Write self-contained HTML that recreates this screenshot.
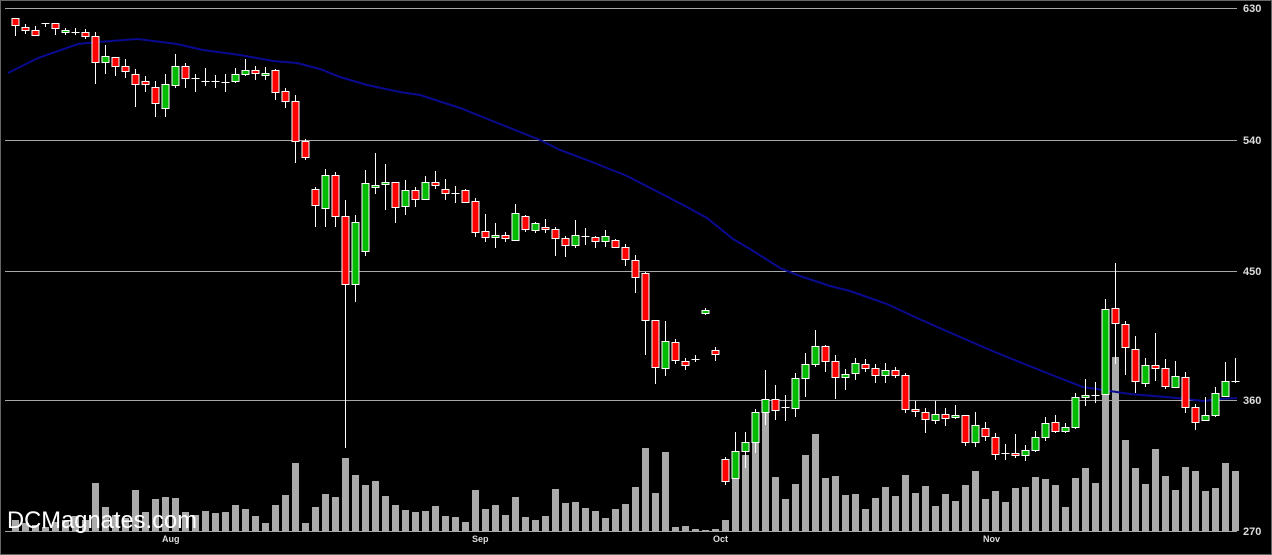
<!DOCTYPE html>
<html><head><meta charset="utf-8"><style>
html,body{margin:0;padding:0;background:#000;width:1272px;height:555px;overflow:hidden}
svg{display:block}
.r{fill:#f00;stroke:#fff;stroke-width:1}
.g{fill:#0b0;stroke:#fff;stroke-width:1}
.w{stroke:#fff;stroke-width:1;fill:none}
.v{fill:#aaa}
.t{font-family:"Liberation Sans",sans-serif;font-size:11px;fill:#ddd;font-weight:bold}
</style></head><body>
<svg width="1272" height="555" xmlns="http://www.w3.org/2000/svg">
<rect x="0.5" y="0.5" width="1271" height="554" fill="#000" stroke="#666"/>
<g stroke="#a8a8a8" stroke-width="1">
<path d="M5 8.5H1237M5 140.5H1237M5 271.5H1237M5 400.5H1237M5 531.5H1237"/>
</g>
<g class="t">
<text x="1243" y="12">630</text><text x="1243" y="144">540</text><text x="1243" y="275">450</text><text x="1243" y="404">360</text><text x="1243" y="535">270</text>
<text x="162" y="542" font-size="9">Aug</text><text x="472" y="542" font-size="9">Sep</text><text x="713" y="542" font-size="9">Oct</text><text x="983" y="542" font-size="9">Nov</text>
</g>
<g class="v" id="vol"></g>
<path d="M8 73L38 58L78 44L97 42L138 39L177 44L203 50L240 55L273 61L297 63L320 69L340 77L367 85L400 92L420 95L460 108L500 124L540 140L560 150L587 160L627 176L660 193L687 207L707 218L733 239L750 249L780 268L800 276L830 286L850 291L887 304L917 318L960 337L990 350L1027 365L1057 377L1083 387L1130 394L1177 398L1203 401L1220 399L1237 398" fill="none" stroke="#0a0a90" stroke-width="2"/>
<g id="c"></g>
<text x="7" y="528" font-family="Liberation Sans,sans-serif" font-size="24" fill="#fff" textLength="190" lengthAdjust="spacingAndGlyphs">DCMagnates.com</text>
</svg>
<script>
var V={15:520,25:523,35:525,45:527,55:522,65:520,75:516,85:520,95:483,105:507,115:515,125:518,135:490,145:512,155:499,165:497,175:498,185:512,195:515,205:511,215:513,225:512,235:505,245:509,255:516,265:523,275:505,285:495,295:463,305:523,315:507,325:494,335:497,345:458,355:475,365:485,375:481,385:496,395:505,405:510,415:512,425:511,435:506,445:516,455:517,465:522,475:490,485:509,495:505,505:515,515:497,525:517,535:520,545:516,555:489,565:503,575:502,585:508,595:511,605:518,615:509,625:504,635:487,645:448,655:493,665:452,675:527,685:526,695:529,705:530,715:529,725:520,735:477,745:455,755:442,765:412,775:477,785:499,795:484,805:455,815:434,825:478,835:476,845:495,855:494,865:509,875:498,885:487,895:496,905:475,915:493,925:486,935:506,945:494,955:501,965:485,975:471,985:499,995:491,1005:502,1015:488,1025:487,1035:477,1045:479,1055:485,1065:507,1075:478,1085:468,1095:483,1105:393,1115:357,1125:440,1135:468,1145:484,1155:449,1165:476,1175:490,1185:467,1195:471,1205:491,1215:488,1225:463,1235:471};
var s='';for(var k in V){s+='<rect x="'+(k-3)+'" y="'+V[k]+'" width="7" height="'+(531-V[k])+'"/>';}
document.getElementById('vol').innerHTML=s;
var C=[[18,36,18,25,'r'],[24,34,27,30,'r'],[26,35,30,35,'r'],[23,27,23,'d'],[23,35,23,28,'r'],[28,35,30,32,'g'],[28,35,32,'d'],[29,39,32,36,'r'],[32,84,36,62,'r'],[45,74,56,62,'g'],[57,76,57,66,'r'],[59,78,66,71,'r'],[69,107,74,84,'r'],[76,92,81,84,'r'],[81,117,87,103,'r'],[74,117,84,108,'g'],[54,88,66,85,'g'],[63,88,66,78,'r'],[74,92,78,'d'],[68,86,81,'d'],[75,88,81,'d'],[74,92,82,'d'],[68,83,74,81,'g'],[59,76,70,74,'g'],[66,80,70,73,'r'],[67,80,73,75,'g'],[69,100,70,92,'r'],[88,108,91,101,'r'],[95,163,101,141,'r'],[139,160,141,157,'r'],[187,227,189,205,'r'],[169,227,175,208,'g'],[172,227,175,216,'r'],[200,448,216,284,'r'],[215,302,222,284,'g'],[170,256,183,251,'g'],[153,194,185,187,'g'],[164,210,182,184,'g'],[182,223,182,207,'r'],[180,215,190,206,'g'],[187,207,190,199,'r'],[176,199,182,199,'g'],[171,189,182,185,'r'],[179,200,189,193,'r'],[186,203,193,'d'],[189,203,190,202,'r'],[198,237,201,232,'r'],[214,242,231,237,'r'],[223,248,235,237,'g'],[232,242,235,238,'r'],[204,241,213,240,'g'],[215,232,216,229,'r'],[222,233,223,230,'g'],[219,233,227,229,'r'],[227,256,229,238,'r'],[236,257,238,245,'r'],[220,248,235,245,'g'],[228,245,236,'d'],[236,248,237,241,'r'],[230,247,236,241,'g'],[239,248,240,247,'r'],[244,266,247,259,'r'],[255,293,260,277,'r'],[272,355,273,320,'r'],[320,384,320,367,'r'],[321,376,341,368,'g'],[339,364,342,360,'r'],[358,370,361,365,'r'],[355,362,359,'d'],[308,315,310,313,'g'],[347,361,350,354,'r'],[457,485,459,481,'r'],[432,478,451,478,'g'],[432,468,442,451,'g'],[409,453,412,442,'g'],[370,425,399,412,'g'],[385,420,399,410,'r'],[395,421,407,'d'],[373,417,378,408,'g'],[353,397,364,378,'g'],[330,367,346,364,'g'],[345,372,346,361,'r'],[355,399,361,377,'r'],[369,390,374,377,'g'],[358,380,363,373,'g'],[359,372,364,368,'r'],[364,383,368,375,'r'],[363,383,370,375,'g'],[367,378,370,375,'r'],[373,413,375,409,'r'],[401,417,409,411,'r'],[408,433,412,419,'r'],[401,424,414,420,'g'],[408,426,414,418,'r'],[405,419,415,417,'g'],[415,446,415,442,'r'],[412,447,425,442,'g'],[422,441,428,436,'r'],[433,460,437,454,'r'],[444,460,453,'d'],[434,458,453,455,'r'],[445,461,450,455,'g'],[431,452,437,450,'g'],[417,441,423,437,'g'],[415,433,422,431,'r'],[423,433,427,431,'g'],[393,429,397,427,'g'],[379,406,395,397,'g'],[382,403,395,'d'],[299,394,309,394,'g'],[263,364,308,323,'r'],[321,375,324,347,'r'],[336,393,349,381,'r'],[358,387,365,383,'g'],[333,381,365,368,'r'],[359,389,368,386,'r'],[361,388,376,387,'g'],[372,413,377,407,'r'],[404,430,407,422,'r'],[397,421,415,420,'g'],[387,417,393,415,'g'],[362,396,381,396,'g'],[358,383,381,'d']];
var h='';C.forEach(function(c,i){var x=15+10*i+0.5;h+='<path class="w" d="M'+x+' '+c[0]+'V'+c[1]+'"/>';
if(c[3]==='d'){h+='<path class="w" d="M'+(x-4)+' '+(c[2]+0.5)+'H'+(x+4)+'"/>';}
else{var t=c[2],b=c[3];if(b-t<2)b=t+2;h+='<rect class="'+c[4]+'" x="'+(x-3.5)+'" y="'+(t+0.5)+'" width="7" height="'+(b-t)+'"/>';}});
document.getElementById('c').innerHTML=h;
</script>
</body></html>
